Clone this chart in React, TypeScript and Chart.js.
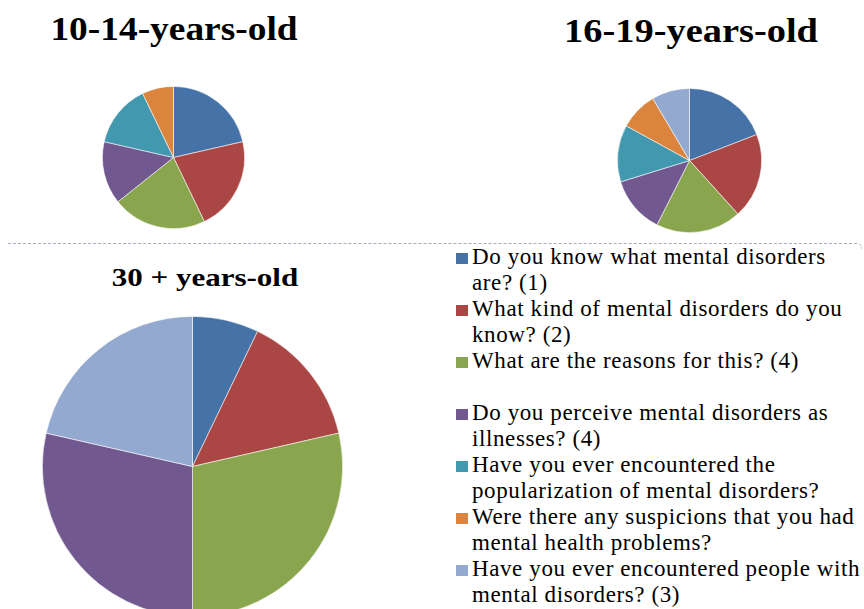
import React, { useEffect, useRef } from "react";
import { Chart, registerables } from "chart.js";

Chart.register(...registerables);

// ---- data ----
const categories: string[] = [
  "Do you know what mental disorders are? (1)",
  "What kind of mental disorders do you know? (2)",
  "What are the reasons for this? (4)",
  "Do you perceive mental disorders as illnesses? (4)",
  "Have you ever encountered the popularization of mental disorders?",
  "Were there any suspicions that you had mental health problems?",
  "Have you ever encountered people with mental disorders? (3)",
];
// legend lines as wrapped in the original
const legendLines: string[][] = [
  ["Do you know what mental disorders", "are? (1)"],
  ["What kind of mental disorders do you", "know? (2)"],
  ["What are the reasons for this? (4)", ""],
  ["Do you perceive mental disorders as", "illnesses? (4)"],
  ["Have you ever encountered the", "popularization of mental disorders?"],
  ["Were there any suspicions that you had", "mental health problems?"],
  ["Have you ever encountered people with", "mental disorders? (3)"],
];
const values10to14: number[] = [3, 3, 3, 2, 2, 1, 0];
const values16to19: number[] = [9, 9, 9, 6, 6, 4, 4];
const values30plus: number[] = [1, 2, 4, 4, 0, 0, 3];
const titles: string[] = ["10-14-years-old", "16-19-years-old", "30 + years-old"];
const colors: string[] = [
  "#4572A7",
  "#AA4643",
  "#89A54E",
  "#71588F",
  "#4198AF",
  "#DB843D",
  "#93A9CF",
];

const SERIF = '"Liberation Serif", "Times New Roman", serif';

function Pie(props: { values: number[]; left: number; top: number; size: number }) {
  const ref = useRef<HTMLCanvasElement | null>(null);
  useEffect(() => {
    if (!ref.current) return;
    const chart = new Chart(ref.current, {
      type: "pie",
      data: {
        labels: categories,
        datasets: [
          {
            data: props.values,
            backgroundColor: colors,
            borderColor: "rgba(255,255,255,0.7)",
            borderWidth: 0.8,
          },
        ],
      },
      options: {
        responsive: false,
        maintainAspectRatio: false,
        animation: false,
        devicePixelRatio: 1,
        layout: { padding: 0 },
        plugins: {
          legend: { display: false },
          tooltip: { enabled: false },
          title: { display: false },
        },
      },
    });
    return () => chart.destroy();
  }, []);
  return (
    <canvas
      ref={ref}
      width={props.size}
      height={props.size}
      style={{
        position: "absolute",
        left: props.left,
        top: props.top,
        width: props.size,
        height: props.size,
        display: "block",
      }}
    />
  );
}

function Title(props: { text: string; cx: number; top: number; size: number; scale: number }) {
  return (
    <div
      style={{
        position: "absolute",
        left: props.cx - 200,
        top: props.top,
        width: 400,
        textAlign: "center",
        fontFamily: SERIF,
        fontWeight: "bold",
        fontSize: props.size,
        lineHeight: `${props.size}px`,
        whiteSpace: "nowrap",
        color: "#000",
        transform: `scaleX(${props.scale})`,
        transformOrigin: "center",
      }}
    >
      {props.text}
    </div>
  );
}

export default function App() {
  return (
    <div
      style={{
        position: "absolute",
        left: 0,
        top: 0,
        width: 864,
        height: 609,
        overflow: "hidden",
        background: "#fff",
      }}
    >
      <Title text={titles[0]} cx={174} top={12} size={34} scale={1.1} />
      <Title text={titles[1]} cx={690.5} top={13.5} size={34} scale={1.13} />
      <Title text={titles[2]} cx={204.5} top={264.5} size={25} scale={1.24} />

      <Pie values={values10to14} left={102} top={86} size={143} />
      <Pie values={values16to19} left={617} top={88} size={145} />
      <Pie values={values30plus} left={42} top={316} size={301} />

      <div
        style={{
          position: "absolute",
          left: 8,
          top: 243,
          width: 853,
          height: 5,
          borderTop: "1px dashed #a4adbd",
          borderRight: "1px solid #c8cdd6",
          borderTopRightRadius: 5,
        }}
      />

      <div
        style={{
          position: "absolute",
          left: 456,
          top: 244.2,
          fontFamily: SERIF,
          fontSize: 23,
          lineHeight: "26px",
          letterSpacing: 0.6,
          color: "#000",
          whiteSpace: "nowrap",
        }}
      >
        {legendLines.map((lines, i) => (
          <div key={i} style={{ position: "relative", paddingLeft: 16 }}>
            <span
              style={{
                position: "absolute",
                left: 0,
                top: 9,
                width: 12,
                height: 11,
                background: colors[i],
              }}
            />
            {lines.map((l, j) => (
              <div key={j} style={{ height: 26 }}>
                {l}
              </div>
            ))}
          </div>
        ))}
      </div>
    </div>
  );
}
